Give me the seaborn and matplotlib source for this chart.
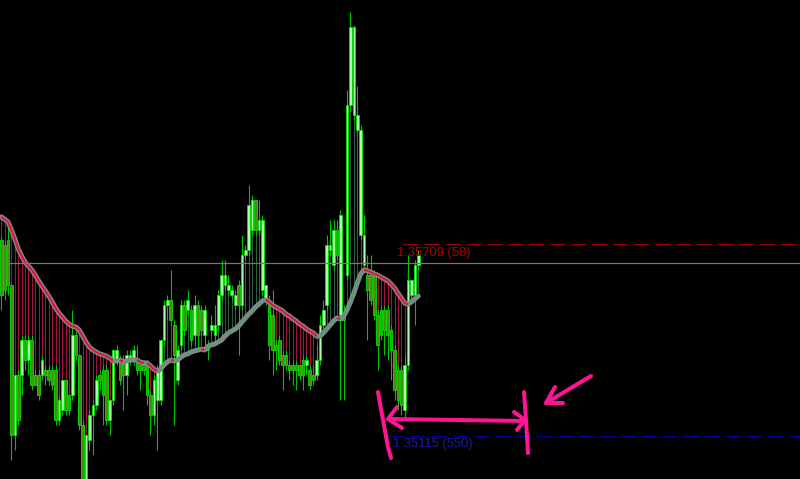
import numpy as np
import pandas as pd
import seaborn as sns
import matplotlib.pyplot as plt
from matplotlib import transforms
from matplotlib.collections import LineCollection

# candle data, prices in points (1 point = 0.00001)
open_pts = [
    135721, 135706, 135721, 135582, 135118, 135304, 135304, 135412, 135350, 135412,
    135304, 135304, 135304, 135319, 135319, 135319, 135319, 135165, 135196, 135288,
    135242, 135242, 135428, 135366, 135149, 134979, 135103, 135180, 135211, 135304,
    135319, 135319, 135165, 135226, 135350, 135350, 135350, 135304, 135350, 135350,
    135350, 135335, 135335, 135335, 135242, 135180, 135226, 135226, 135412, 135520,
    135536, 135458, 135288, 135397, 135520, 135505, 135505, 135428, 135520, 135505,
    135428, 135397, 135443, 135428, 135458, 135551, 135582, 135567, 135551, 135520,
    135582, 135520, 135675, 135691, 135752, 135845, 135752, 135567, 135536, 135536,
    135489, 135397, 135412, 135366, 135366, 135335, 135335, 135335, 135335, 135350,
    135335, 135319, 135304, 135304, 135350, 135458, 135520, 135691, 135644, 135752,
    135489, 135489, 135613, 136139, 136108, 136062, 135737, 135644, 135613, 135613,
    135613, 135489, 135505, 135505, 135505, 135443, 135381, 135319, 135319, 135196,
    135335, 135551, 135551, 135644,
]
high_pts = [
    135737, 135721, 135783, 135582, 135304, 135319, 135428, 135428, 135428, 135428,
    135319, 135319, 135366, 135335, 135335, 135335, 135335, 135242, 135288, 135288,
    135242, 135505, 135443, 135366, 135165, 135118, 135196, 135226, 135304, 135319,
    135335, 135335, 135226, 135381, 135397, 135366, 135366, 135381, 135381, 135397,
    135397, 135350, 135350, 135350, 135257, 135304, 135335, 135412, 135536, 135551,
    135629, 135474, 135397, 135536, 135536, 135567, 135520, 135551, 135536, 135520,
    135520, 135412, 135489, 135520, 135567, 135660, 135660, 135613, 135582, 135567,
    135598, 135737, 135706, 135892, 135861, 135845, 135845, 135799, 135582, 135551,
    135567, 135412, 135428, 135381, 135381, 135350, 135350, 135350, 135335, 135366,
    135366, 135335, 135335, 135397, 135489, 135536, 135737, 135783, 135783, 135783,
    135814, 135520, 136186, 136427, 136387, 136198, 136077, 135799, 135675, 135675,
    135629, 135505, 135520, 135520, 135520, 135458, 135397, 135335, 135335, 135366,
    135675, 135598, 135660, 135691,
]
low_pts = [
    135505, 135536, 135551, 135041, 135072, 135149, 135242, 135319, 135304, 135257,
    135273, 135226, 135288, 135273, 135273, 135257, 135149, 135149, 135180, 135180,
    135180, 135226, 135350, 135134, 134963, 134963, 135072, 135056, 135196, 135257,
    135149, 135149, 135118, 135211, 135335, 135273, 135196, 135242, 135335, 135335,
    135304, 135257, 135304, 135211, 135118, 135149, 135072, 135211, 135397, 135474,
    135458, 135149, 135273, 135381, 135428, 135489, 135397, 135397, 135381, 135428,
    135397, 135350, 135428, 135412, 135443, 135536, 135567, 135551, 135536, 135505,
    135366, 135505, 135660, 135675, 135737, 135737, 135737, 135551, 135520, 135350,
    135304, 135319, 135335, 135257, 135319, 135288, 135273, 135257, 135288, 135257,
    135304, 135257, 135273, 135288, 135335, 135443, 135505, 135675, 135629, 135660,
    135226, 135226, 135598, 136124, 136093, 136056, 135721, 135629, 135412, 135520,
    135474, 135319, 135412, 135366, 135350, 135288, 135226, 135196, 135180, 135165,
    135319, 135536, 135458, 135629,
]
close_pts = [
    135551, 135567, 135582, 135118, 135304, 135165, 135412, 135350, 135412, 135273,
    135273, 135242, 135350, 135304, 135288, 135273, 135165, 135226, 135288, 135196,
    135196, 135428, 135366, 135149, 134979, 135118, 135180, 135211, 135288, 135288,
    135242, 135165, 135226, 135381, 135381, 135288, 135304, 135366, 135366, 135381,
    135319, 135319, 135319, 135242, 135180, 135288, 135319, 135412, 135520, 135536,
    135474, 135366, 135381, 135520, 135443, 135536, 135412, 135520, 135428, 135443,
    135505, 135381, 135458, 135458, 135551, 135613, 135613, 135582, 135567, 135551,
    135520, 135675, 135691, 135830, 135845, 135752, 135783, 135783, 135582, 135397,
    135381, 135381, 135350, 135335, 135335, 135319, 135319, 135319, 135304, 135304,
    135350, 135273, 135288, 135350, 135458, 135505, 135706, 135706, 135752, 135675,
    135799, 135474, 136139, 136380, 136380, 136108, 136062, 135737, 135567, 135536,
    135489, 135397, 135428, 135443, 135428, 135381, 135257, 135226, 135211, 135335,
    135598, 135598, 135644, 135675,
]
ma_pts = [
    135793, 135786, 135777, 135752, 135725, 135694, 135672, 135653, 135641, 135629,
    135613, 135595, 135579, 135564, 135548, 135530, 135511, 135496, 135483, 135471,
    135461, 135455, 135452, 135443, 135424, 135406, 135390, 135381, 135375, 135369,
    135366, 135362, 135356, 135347, 135347, 135350, 135344, 135347, 135350, 135350,
    135350, 135344, 135341, 135341, 135332, 135322, 135316, 135322, 135335, 135344,
    135350, 135347, 135350, 135359, 135366, 135369, 135375, 135378, 135381, 135384,
    135381, 135393, 135397, 135400, 135406, 135412, 135424, 135434, 135440, 135446,
    135455, 135468, 135480, 135492, 135502, 135514, 135523, 135533, 135536, 135530,
    135520, 135514, 135508, 135502, 135492, 135486, 135477, 135471, 135461, 135455,
    135446, 135440, 135434, 135424, 135424, 135434, 135446, 135458, 135471, 135480,
    135477, 135486, 135505, 135530, 135557, 135588, 135616, 135629, 135626, 135622,
    135616, 135613, 135607, 135601, 135595, 135585, 135573, 135557, 135542, 135526,
    135523, 135530, 135539, 135548,
]

ref_price = 1.35650
level_hi, level_hi_text = 1.35709, "1.35709 (58)"
level_lo, level_lo_text = 1.35115, "1.35115 (550)"

df = pd.DataFrame({
    "bar": np.arange(len(open_pts)),
    "open": np.array(open_pts) / 1e5,
    "high": np.array(high_pts) / 1e5,
    "low": np.array(low_pts) / 1e5,
    "close": np.array(close_pts) / 1e5,
    "ma": np.array(ma_pts) / 1e5,
})
df["falling"] = df["ma"].diff().fillna(-1) < 0

W, H = 800, 479
step, x0 = 3.39, 1.3          # bar spacing / first bar, in pixels
y_bot, y_top = 1.34982, 1.36464

sns.set_style("dark", {"axes.facecolor": "black", "figure.facecolor": "black"})
plt.rcParams["font.family"] = ["Liberation Sans", "DejaVu Sans"]
plt.rcParams["lines.scale_dashes"] = False

fig = plt.figure(figsize=(W / 100, H / 100), dpi=100)
ax = fig.add_axes([0, 0, 1, 1])
ax.set_xlim(-x0 / step, (W - x0) / step)
ax.set_ylim(y_bot, y_top)
ax.axis("off")

bars = df["bar"].to_numpy()
ma = df["ma"].to_numpy()
falling = df["falling"].to_numpy()

# lines from the average to the close
ax.vlines(bars, ma, df["close"], colors=np.where(falling, "#a3123a", "#2f5e48"),
          lw=0.75, zorder=1)

# candles
ax.vlines(bars, df["low"], df["high"], colors="#00c400", lw=0.8, zorder=2)
bull = (df["close"] >= df["open"]).to_numpy()
bottoms = np.minimum(df["open"], df["close"])
heights = np.maximum((df["close"] - df["open"]).abs(), 0.00002)
ax.bar(bars, heights, bottom=bottoms, width=0.78,
       color=np.where(bull, "#a8ffa8", "#4d8a12"),
       edgecolor="#00e400", linewidth=0.6, zorder=3)

# moving average: grey band with coloured core
sns.lineplot(data=df, x="bar", y="ma", ax=ax, color="#858585", lw=3.6,
             zorder=4, legend=False)
segs = [[(bars[i - 1], ma[i - 1]), (bars[i], ma[i])] for i in range(1, len(bars))]
seg_cols = np.where(falling[1:], "#dc143c", "#5f9a7c")
ax.add_collection(LineCollection(segs, colors=seg_cols, linewidths=1.5, zorder=5))

# horizontal levels
ax.axhline(ref_price, color="#777777", lw=0.9, zorder=6)
ax.axhline(level_hi, xmin=403 / W, xmax=1, color="#a00000", lw=0.8,
           dashes=(10.8, 4.3), zorder=6)
ax.axhline(level_lo, xmin=390 / W, xmax=1, color="#0000a8", lw=0.8,
           dashes=(10.8, 4.3), zorder=6)

blend = transforms.blended_transform_factory(ax.transAxes, ax.transData)
ax.annotate(level_hi_text, xy=(397 / W, level_hi), xycoords=blend,
            xytext=(0, -6.5), textcoords="offset points", va="center",
            ha="left", fontsize=9.4, color="#b00000", zorder=7)
ax.annotate(level_lo_text, xy=(393 / W, level_lo), xycoords=blend,
            xytext=(0, -6.0), textcoords="offset points", va="center",
            ha="left", fontsize=9.4, color="#1a1aa6", zorder=7)

# hand-drawn pink marks (pixel positions on the screenshot)
strokes = [
    [(378, 392), (383, 420), (388, 447), (391, 458)],
    [(397, 407), (388, 419), (402, 428)],
    [(389, 419), (525, 421)],
    [(514, 412), (525, 420), (517, 430)],
    [(524, 392), (526, 420), (528, 453)],
    [(591, 376), (546, 403)],
    [(555, 387), (546, 403), (563, 403)],
]
for s in strokes:
    xs = [p[0] / W for p in s]
    ys = [1 - p[1] / H for p in s]
    ax.plot(xs, ys, transform=ax.transAxes, color="#ff1493", lw=2.9,
            solid_capstyle="round", solid_joinstyle="round", zorder=8)

fig.savefig("out.png", dpi=100, facecolor="black")
